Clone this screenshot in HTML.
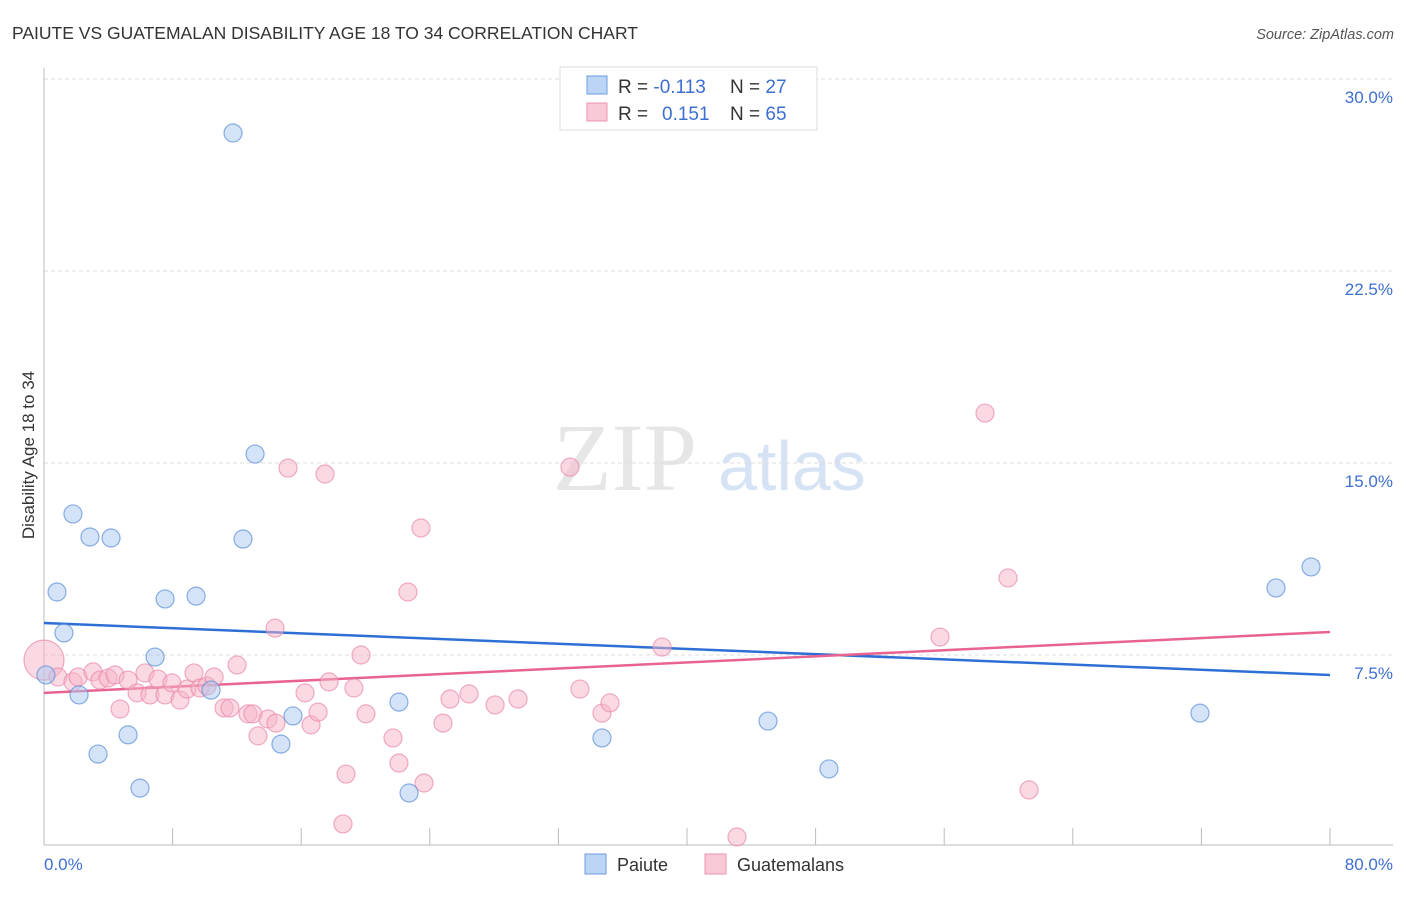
<!DOCTYPE html>
<html><head><meta charset="utf-8"><style>
body{margin:0;background:#fff;font-family:"Liberation Sans",sans-serif}
</style></head><body>
<svg id="chart" width="1406" height="892" viewBox="0 0 1406 892">
<text x="12" y="39" font-size="17.5" fill="#333">PAIUTE VS GUATEMALAN DISABILITY AGE 18 TO 34 CORRELATION CHART</text>
<text x="1394" y="39" font-size="14.5" fill="#555" font-style="italic" text-anchor="end">Source: ZipAtlas.com</text>
<g>
<text x="553" y="490" font-size="96" font-family="Liberation Serif,serif" fill="#e6e6e6">ZIP</text>
<text x="718" y="490" font-size="70" fill="#d6e3f5">atlas</text>
</g>
<g id="grid"></g>
<g id="axes"></g>
<g id="lines"></g>
<g id="pts"></g>
<text transform="translate(34,455) rotate(-90)" font-size="17" fill="#333" text-anchor="middle">Disability Age 18 to 34</text>
<text x="44" y="870" font-size="17" fill="#3d6fd1">0.0%</text>
<text x="1393" y="870" font-size="17" fill="#3d6fd1" text-anchor="end">80.0%</text>
<g>
<rect x="560" y="67" width="257" height="63" fill="#fff" stroke="#ddd"/>
<rect x="587" y="76" width="20" height="18" fill="#bcd5f5" stroke="#6a9be0"/>
<rect x="587" y="103" width="20" height="18" fill="#f9c9d8" stroke="#ec95b0"/>
<text x="618" y="93" font-size="19" fill="#333">R = <tspan fill="#3d6fd1">-0.113</tspan><tspan x="730">N = </tspan><tspan fill="#3d6fd1">27</tspan></text>
<text x="618" y="120" font-size="19" fill="#333">R = <tspan x="662" fill="#3d6fd1">0.151</tspan><tspan x="730">N = </tspan><tspan fill="#3d6fd1">65</tspan></text>
</g>
<g><rect x="585" y="854" width="21" height="20" fill="#bcd5f5" stroke="#6a9be0"/><text x="617" y="871" font-size="18" fill="#333">Paiute</text></g>
<g><rect x="705" y="854" width="21" height="20" fill="#f9c9d8" stroke="#ec95b0"/><text x="737" y="871" font-size="18" fill="#333">Guatemalans</text></g>
</svg>
<script>
const yTicks=[7.5,15,22.5,30];
const yTickLabels=["7.5%","15.0%","22.5%","30.0%"];
const xTicks=[0,8,16,24,32,40,48,56,64,72,80];
const paiuteX=[11.76,13.13,1.80,2.86,4.17,12.38,0.81,7.53,9.46,1.24,6.91,0.12,2.18,10.39,22.08,15.49,3.36,5.23,14.74,5.97,22.71,34.71,45.04,48.83,71.91,76.64,78.82];
const paiuteY=[27.89,15.35,13.01,12.11,12.07,12.03,9.96,9.69,9.80,8.36,7.42,6.72,5.94,6.13,5.66,5.12,3.63,4.38,4.02,2.30,2.11,4.26,4.92,3.05,5.23,10.12,10.94];
const guatX=[0,0.87,1.80,2.12,3.05,3.48,3.98,4.42,5.23,4.73,5.79,6.28,6.59,7.09,7.53,7.96,8.46,8.90,9.33,9.70,10.14,10.58,11.20,11.57,12.01,12.69,13.00,13.31,13.93,14.43,15.18,14.37,16.24,16.61,17.05,17.48,17.73,18.79,18.60,19.28,19.72,20.03,21.71,22.08,22.64,23.45,23.64,24.82,25.26,26.44,28.06,29.49,32.72,33.34,34.71,35.21,38.45,43.11,55.74,58.54,59.97,61.28];
const guatY=[7.30,6.64,6.45,6.64,6.84,6.52,6.60,6.72,6.52,5.39,6.02,6.80,5.94,6.56,5.94,6.41,5.74,6.17,6.80,6.21,6.29,6.64,5.43,5.43,7.11,5.20,5.20,4.34,5.00,4.84,14.80,8.55,6.02,4.77,5.27,14.57,6.45,2.85,0.90,6.21,7.50,5.20,4.26,3.28,9.96,12.46,2.50,4.84,5.78,5.98,5.55,5.78,14.84,6.17,5.23,5.63,7.81,0.39,8.20,16.95,10.51,2.23];
const paiuteTrend=[8.75,6.72];
const guatTrend=[6.02,8.40];
const NS='http://www.w3.org/2000/svg';
const X0=44,X1=1330,Y0=847,Y30=79;
const sx=v=>X0+v/80*(X1-X0);
const sy=v=>Y0-v/30*(Y0-Y30);
function mk(t,a,p){const e=document.createElementNS(NS,t);for(const k in a)e.setAttribute(k,a[k]);p.appendChild(e);return e;}
const grid=document.getElementById('grid'),axes=document.getElementById('axes'),lines=document.getElementById('lines'),pts=document.getElementById('pts');
yTicks.forEach((v,i)=>{
 const l=mk('line',{x1:44,x2:1393,y1:sy(v),y2:sy(v),stroke:'#ddd','stroke-dasharray':'4,3'},grid);
 
 
 const t=mk('text',{x:1393,y:sy(v)+24,'font-size':17,fill:'#3d6fd1','text-anchor':'end'},grid);
 t.textContent=yTickLabels[i];
 
 
});
const ya=mk('line',{x1:44,x2:44,y1:68,y2:845,stroke:'#bbb'},axes);


const xa=mk('line',{x1:44,x2:1393,y1:845,y2:845,stroke:'#bbb'},axes);


xTicks.forEach(v=>{
 const t=mk('line',{x1:sx(v),x2:sx(v),y1:828,y2:845,stroke:'#bbb'},axes);
 
 
});
function dots(xs,ys,fill,stroke,name){
 xs.forEach((x,i)=>{
  const r=(name==='guatemalan-point'&&i===0)?20:9;
  const c=mk('circle',{cx:sx(x),cy:sy(ys[i]),r:r,fill:fill,'fill-opacity':0.5,stroke:stroke,'stroke-opacity':0.7,'stroke-width':1.2},pts);
  
  
 });
}
dots(guatX,guatY,'#f6b3c8','#e98aa9','guatemalan-point');
dots(paiuteX,paiuteY,'#a9c8f2','#5a8ed8','paiute-point');
const bl=mk('line',{x1:sx(0),y1:sy(paiuteTrend[0]),x2:sx(80),y2:sy(paiuteTrend[1]),stroke:'#2e6fd6','stroke-width':2.5},lines);


const pl=mk('line',{x1:sx(0),y1:sy(guatTrend[0]),x2:sx(80),y2:sy(guatTrend[1]),stroke:'#e8648f','stroke-width':2.5},lines);


</script>
</body></html>
